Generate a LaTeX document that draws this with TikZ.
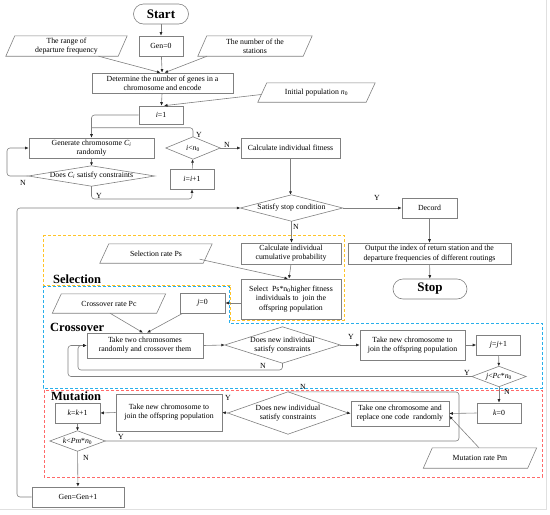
\documentclass[tikz,border=0pt]{standalone}
\usepackage{fontspec}
\setmainfont{Liberation Serif}
\usetikzlibrary{arrows.meta,calc}
\newcommand\dfs{\fontsize{7.8}{9.2}\selectfont}
\newcommand\bfs{\fontsize{12.5}{14}\selectfont\bfseries}
\newcommand\diam[1]{\draw[lc] (#1.north) -- (#1.east) -- (#1.south) -- (#1.west) -- cycle;}
\newcommand\para[1]{\draw[lc] ([xshift=-4.5pt]#1.south west) -- ([xshift=4.5pt]#1.north west) -- ([xshift=4.5pt]#1.north east) -- ([xshift=-4.5pt]#1.south east) -- cycle;}
\newcommand\sub[1]{\textsubscript{#1}}
\definecolor{dyel}{RGB}{255,196,40}
\definecolor{dblu}{RGB}{40,175,235}
\definecolor{dred}{RGB}{255,105,105}
\begin{document}
\begin{tikzpicture}[x=1pt,y=-1pt,
  lc/.style={draw=black!50, line width=0.6pt},
  sz/.style 2 args={minimum width=#1pt, minimum height=#2pt},
  box/.style={lc, rectangle, inner sep=0pt, align=center, font=\dfs},
  term/.style={lc, rectangle, rounded corners=10pt, inner sep=0pt, font=\fontsize{13}{15}\selectfont\bfseries},
  plain/.style={rectangle, inner sep=0pt, align=center, font=\dfs},
  arr/.style={lc, -{Latex[length=3.5pt,width=3pt,color=black!85]}},
  lnk/.style={lc, rounded corners=3pt},
  lab/.style={font=\dfs, inner sep=0pt},
  sec/.style={font=\bfs, inner sep=0pt, anchor=west},
  dsh/.style={line width=0.9pt, dash pattern=on 3pt off 2pt}
]
\useasboundingbox (0,0) rectangle (550,515);
% faint frame
\draw[black!12, line width=0.6pt] (546,0) -- (546,509) -- (0,509);

% dashed regions
\draw[dsh, draw=dyel] (43,235) -- (344,235) -- (344,320) -- (230,320) -- (230,285) -- (43,285) -- cycle;
\draw[dsh, draw=dblu] (43,286) -- (229,286) -- (229,323) -- (542,323) -- (542,388) -- (43,388) -- cycle;
\draw[dsh, draw=dred] (44,390) rectangle (542,477);

\node[sec] (lsel) at (53,279) {Selection};
\node[sec] (lcro) at (50,327) {Crossover};
\node[sec] (lmut) at (51,396) {Mutation};

% nodes
\node[term, sz={55}{20}] (start) at (161,14) {Start};
\node[box, sz={44}{20}] (gen0) at (161,46) {Gen=0};
\node[plain, sz={112}{20}] (range) at (66.5,46) {The range of\\departure frequency}; \para{range}
\node[plain, sz={105}{20}] (stations) at (255,46) {The number of the\\stations}; \para{stations}
\node[box, sz={141}{20}] (det) at (162.5,83) {Determine the number of genes in a\\chromosome and encode};
\node[plain, sz={108}{19}] (init) at (316.5,92.5) {Initial population \textit{n}\sub{0}}; \para{init}
\node[box, sz={44}{18}] (i1) at (161,115) {\textit{i}=1};
\node[box, sz={125}{20}] (gen) at (91.5,148) {Generate chromosome \textit{C}\sub{\textit{i}}\\randomly};
\node[plain, sz={126}{20}] (dc) at (91.5,176) {Does \textit{C}\sub{\textit{i}} satisfy constraints}; \diam{dc}
\node[plain, sz={54}{22}] (ilt) at (193,148) {\textit{i}<\textit{n}\sub{0}}; \diam{ilt}
\node[box, sz={44}{20}] (ipp) at (192,179) {\textit{i}=\textit{i}+1};
\node[box, sz={99}{20}] (fit) at (290.5,148) {Calculate individual fitness};
\node[plain, sz={102}{26}] (sd) at (291.5,208) {Satisfy stop condition}; \diam{sd}
\node[box, sz={55}{20}] (dec) at (429.5,208) {Decord};
\node[box, sz={163}{21}] (out) at (429.5,253.5) {Output the index of return station and the\\departure frequencies of different routings};
\node[term, sz={74}{20}] (stopn) at (430,289) {Stop};
\node[box, sz={100}{21}] (cum) at (291,253.5) {Calculate individual\\cumulative probability};
\node[box, sz={100}{40}] (sel) at (291,299) {Select \ Ps*n\sub{0}higher fitness\\individuals to \ join the\\offspring population};
\node[plain, sz={103}{19}] (ps) at (156,253.5) {Selection rate Ps}; \para{ps}
\node[plain, sz={104}{19}] (pc) at (109,303.5) {Crossover rate Pc}; \para{pc}
\node[box, sz={45}{20}] (j0) at (202.5,303) {\textit{j}=0};
\node[box, sz={116}{25}] (take2) at (145,345.5) {Take two chromosomes\\randomly and crossover them};
\node[plain, sz={115}{36}] (cd) at (282.5,345) {Does new individual\\satisfy constraints}; \diam{cd}
\node[box, sz={105}{30}] (tn1) at (412.5,345) {Take new chromosome to\\join the offspring population};
\node[box, sz={44}{20}] (jpp) at (498.5,345) {\textit{j}=\textit{j}+1};
\node[plain, sz={54}{20}] (jlt) at (499,376.5) {\textit{j}<\textit{Pc}*\textit{n}\sub{0}}; \diam{jlt}
\node[box, sz={44}{20}] (k0) at (499,413) {\textit{k}=0};
\node[box, sz={98}{25}] (take1) at (400,413.5) {Take one chromosome and\\replace one code \ randomly};
\node[plain, sz={104}{20}] (pm) at (480,458) {Mutation rate Pm}; \para{pm}
\node[plain, sz={120}{42}] (md) at (288,413) {Does new individual\\satisfy constraints}; \diam{md}
\node[box, sz={106}{37}] (tn2) at (169,412.5) {Take new chromosome to\\join the offspring population};
\node[box, sz={45}{20}] (kpp) at (77.5,413) {\textit{k}=\textit{k}+1};
\node[plain, sz={55}{20}] (klt) at (77.5,441) {\textit{k}<\textit{Pm}*\textit{n}\sub{0}}; \diam{klt}
\node[box, sz={92}{20}] (genp) at (78,497) {Gen=Gen+1};

% connectors
\draw[arr] (start) -- (gen0);
\draw[arr] (gen0) -- (det);
\draw[arr] ($(range.south)+(32,0)$) -- ($(det.north)+(-2,0)$);
\draw[arr] ($(stations.south)+(-48,0)$) -- ($(det.north)+(2,0)$);
\draw[arr] (det) -- (i1);
\draw[arr] ($(init.west)+(-1,2)$) -- ($(i1.north)+(3,0)$);
\draw[arr, rounded corners=3pt] (i1.west) -| (gen.north);
\draw[lnk] (ilt.north) |- ($(gen.north)+(0,-10)$);
\node[lab] (ly1) at (199,135) {Y};
\draw[arr] (gen) -- (dc);
\draw[arr, rounded corners=3pt] (dc.west) -- (7,176) -- (7,148) -- (gen.west);
\node[lab] (ln1) at (23,183) {N};
\draw[arr, rounded corners=3pt] (dc.south) -- (91.5,199) -- (192,199) -- (ipp.south);
\node[lab] (ly2) at (99,196) {Y};
\draw[arr] (ipp) -- (ilt);
\draw[arr] (ilt) -- (fit);
\node[lab] (ln2) at (227,145) {N};
\draw[arr] (fit.south) -- (fit.south |- sd.north);
\draw[arr, rounded corners=3pt] (genp.west) -- (17,497) -- (17,208) -- (sd.west);
\draw[arr] (sd.east) -- (dec.west);
\node[lab] (ly3) at (377,198) {Y};
\draw[arr] (dec) -- (out);
\draw[arr] (out) -- (stopn);
\draw[arr] (sd.south) -- (sd.south |- cum.north);
\node[lab] (ln3) at (296,227) {N};
\draw[arr] (cum.south) -- ($(sel.north)+(-2,0)$);
\draw[arr] ($(ps.south east)+(-8,-4)$) -- ($(sel.north)+(-3,0)$);
\draw[arr] (sel.west |- j0.east) -- (j0.east);
\draw[arr] ($(pc.south)+(1,0)$) -- ($(take2.north)+(-2,0)$);
\draw[arr] ($(j0.south west)+(3,0)$) -- ($(take2.north)+(2,0)$);
\draw[arr] (take2.east) -- (cd.west);
\draw[arr] (cd.east) -- (tn1.west);
\node[lab] (ly4) at (351,337) {Y};
\draw[arr] (tn1.east) -- (jpp.west);
\draw[arr] (jpp) -- (jlt);
\draw[arr, rounded corners=3pt] (jlt.west) -- (68,376.5) -- (68,345.5) -- (take2.west);
\node[lab] (ly5) at (467,373) {Y};
\draw[arr, rounded corners=3pt] (cd.south) -- (282.5,370) -- (78,370) -- (78,345.5) -- (take2.west);
\node[lab] (ln4) at (263,366) {N};
\draw[arr] (jlt) -- (k0);
\node[lab] (ln5) at (507,392) {N};
\draw[arr] (k0.west) -- (take1.east);
\draw[arr] ($(pm.north)+(-1,0)$) -- ($(take1.east)+(0,2.5)$);
\draw[arr] (md.east) -- (take1.west);
\draw[arr] (md.west) -- (tn2.east);
\node[lab] (ly6) at (228,398) {Y};
\draw[arr] (tn2.west) -- (kpp.east);
\draw[arr] (kpp) -- (klt);
\draw[lnk] (klt.east) -- (459,441) -- (459,392) -- (md.north);
\node[lab] (ly7) at (121,437) {Y};
\node[lab] (ln6) at (303,387) {N};
\draw[arr] (klt) -- (genp);
\node[lab] (ln7) at (86,458) {N};
\end{tikzpicture}
\end{document}
